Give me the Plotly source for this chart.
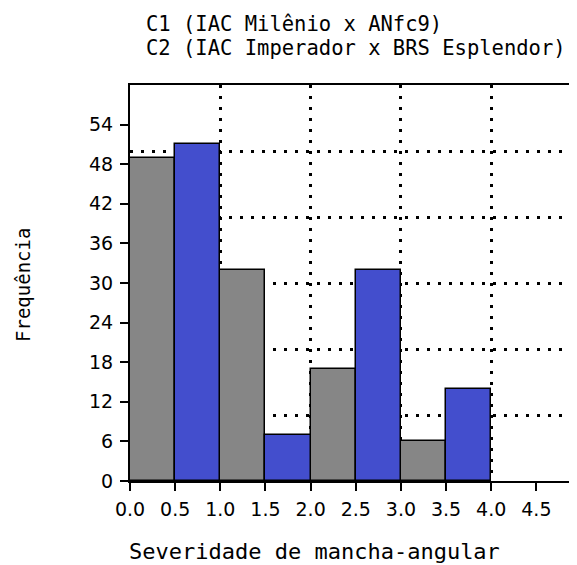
import plotly.graph_objects as go

# Data
bin_width = 0.5
series_names = ["C1 (IAC Milênio x ANfc9)", "C2 (IAC Imperador x BRS Esplendor)"]
c1_bins = [0.0, 1.0, 2.0, 3.0]
c1_freq = [49, 32, 17, 6]
c2_bins = [0.5, 1.5, 2.5, 3.5]
c2_freq = [51, 7, 32, 14]
x_tickvals = [0.0, 0.5, 1.0, 1.5, 2.0, 2.5, 3.0, 3.5, 4.0, 4.5]
x_ticktext = ["0.0", "0.5", "1.0", "1.5", "2.0", "2.5", "3.0", "3.5", "4.0", "4.5"]
y_tickvals = [0, 6, 12, 18, 24, 30, 36, 42, 48, 54]
x_title = "Severidade de mancha-angular"
y_title = "Frequência"

GRAY = "#868686"
BLUE = "#434ecd"
TICKFONT = dict(family="DejaVu Sans", size=19, color="black")
MONO = "DejaVu Sans Mono"
DOTS = "3px,8px"

fig = go.Figure()
fig.add_trace(go.Bar(x=c1_bins, y=c1_freq, width=bin_width, offset=0, name=series_names[0],
                     marker=dict(color=GRAY, line=dict(color="black", width=1.5))))
fig.add_trace(go.Bar(x=c2_bins, y=c2_freq, width=bin_width, offset=0, name=series_names[1],
                     marker=dict(color=BLUE, line=dict(color="black", width=1.5))))
# helper trace for overlay grid axes
fig.add_trace(go.Scatter(x=[None], y=[None], xaxis="x2", yaxis="y2", showlegend=False, hoverinfo="skip"))

xr = [0, 4.95]
yr = [0, 60]
# page body has an 8px margin, so the figure is sized 8px smaller and shifted
fig.update_layout(
    width=569, height=557,
    margin=dict(l=122, r=0, t=77, b=84),
    paper_bgcolor="white", plot_bgcolor="white",
    showlegend=False, bargap=0,
    xaxis=dict(range=xr, tickvals=x_tickvals, ticktext=x_ticktext, ticks="outside", ticklen=8,
               tickwidth=2, tickcolor="black", showline=True, linecolor="black", linewidth=2,
               mirror=True, showgrid=False, zeroline=False, tickfont=TICKFONT,
               ticklabelstandoff=2),
    yaxis=dict(range=yr, tickvals=y_tickvals, ticks="outside", ticklen=8, tickwidth=2,
               tickcolor="black", showline=True, linecolor="black", linewidth=2,
               showgrid=False, zeroline=False, tickfont=TICKFONT, ticklabelstandoff=3),
    xaxis2=dict(overlaying="x", range=xr, dtick=1, tick0=0, showgrid=True, gridcolor="black",
                gridwidth=3, griddash=DOTS, showticklabels=False, ticks="", zeroline=False,
                showline=False),
    yaxis2=dict(overlaying="y", range=yr, dtick=10, tick0=0, showgrid=True, gridcolor="black",
                gridwidth=3, griddash=DOTS, showticklabels=False, ticks="", zeroline=False,
                showline=False),
)

fig.add_annotation(text=series_names[0], xref="paper", yref="paper", x=0, y=1, xshift=14, yshift=61,
                   xanchor="left", yanchor="middle", showarrow=False,
                   font=dict(family=MONO, size=20.5, color="black"))
fig.add_annotation(text=series_names[1], xref="paper", yref="paper", x=0, y=1, xshift=14, yshift=37,
                   xanchor="left", yanchor="middle", showarrow=False,
                   font=dict(family=MONO, size=20.5, color="black"))
fig.add_annotation(text=x_title, xref="paper", yref="paper", x=(314 - 130) / 447, y=0, yshift=-70,
                   xanchor="center", yanchor="middle", showarrow=False,
                   font=dict(family=MONO, size=22, color="black"))
fig.add_annotation(text=y_title, xref="paper", yref="paper", x=0, y=0.5, xshift=-107, yshift=-2,
                   textangle=-90, xanchor="center", yanchor="middle", showarrow=False,
                   font=dict(family=MONO, size=19, color="black"))

fig.write_html("out.html")
